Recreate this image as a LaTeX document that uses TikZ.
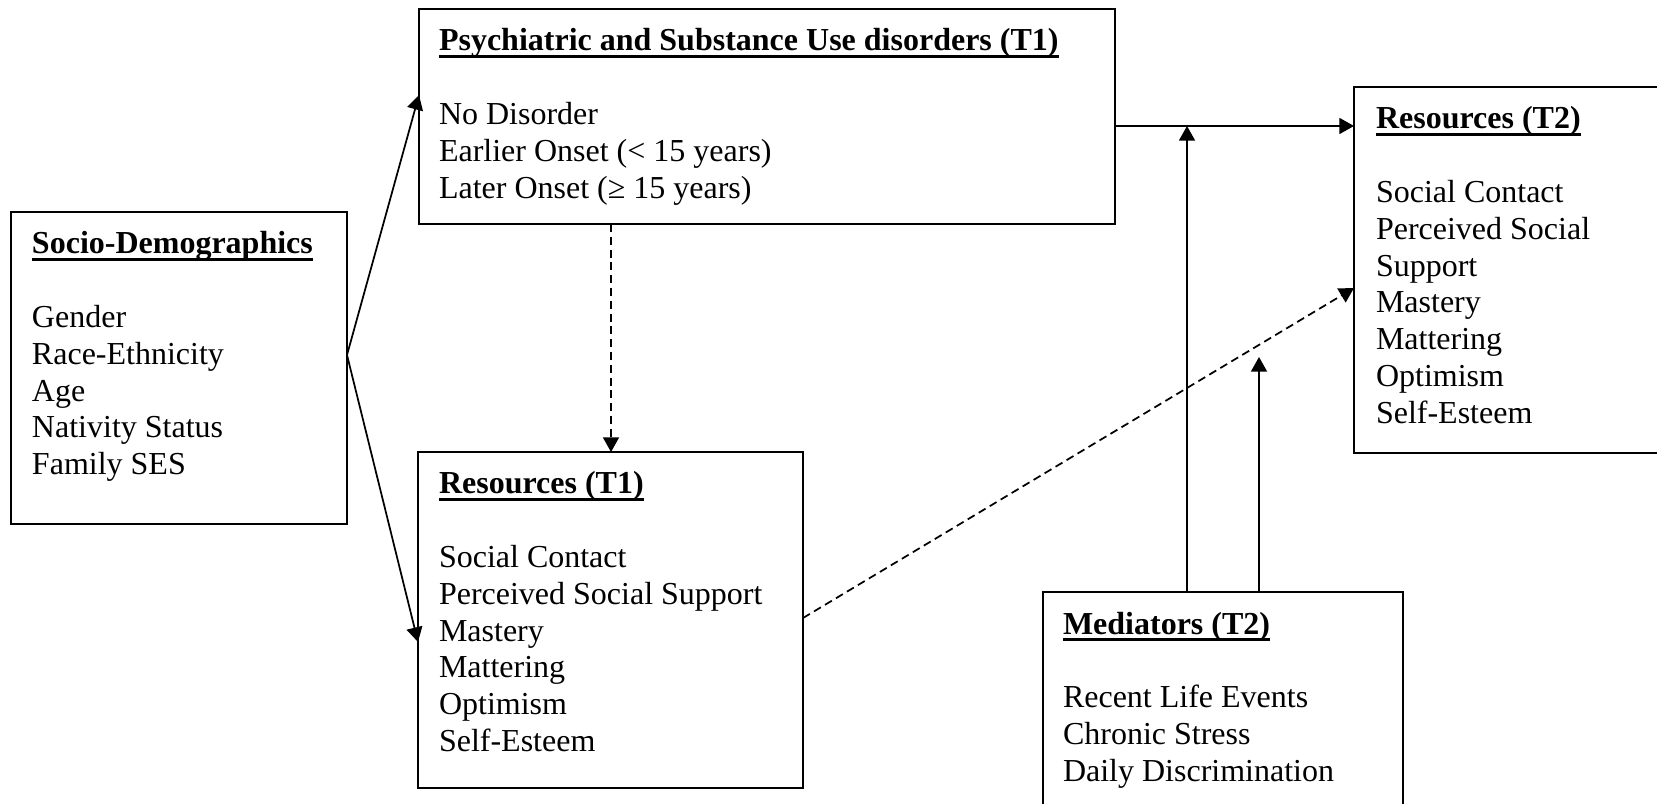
\documentclass[tikz,border=0pt]{standalone}
\usepackage{fontspec}
\setmainfont{Liberation Serif}
\usetikzlibrary{arrows.meta,calc}
\newcommand\ulbf[1]{\setbox0\hbox{\bfseries #1}\rlap{\rule[-2.6pt]{\wd0}{1pt}}\box0}
\begin{document}
\begin{tikzpicture}[x=0.375pt,y=-0.375pt,
  box/.style={draw,line width=0.8pt,inner sep=0pt,outer sep=0pt,anchor=north west},
  txt/.style={anchor=base west,inner sep=0pt,outer sep=0pt,font=\fontsize{12pt}{13.8pt}\selectfont},
  arr/.style={line width=0.65pt,-{Triangle[length=5.5pt,width=6pt]}},
  dsh/.style={arr,dash pattern=on 3pt off 1.8pt}]
\useasboundingbox (0,0) rectangle (1657,804);
\clip (0,0) rectangle (1657,804);
% boxes
\node[box,minimum width=126pt,minimum height=117pt] (socio) at (11,212) {};
\node[box,minimum width=261pt,minimum height=80.625pt] (psych) at (419,9) {};
\node[box,minimum width=144.375pt,minimum height=126pt] (t1) at (418,452) {};
\node[box,minimum width=129.75pt,minimum height=137.25pt] (t2) at (1354,87) {};
\node[box,minimum width=135pt,minimum height=93pt] (med) at (1043,592) {};
% texts
\node[txt] (sociotxt) at (32,254) {\begin{tabular}[t]{@{}l@{}}\ulbf{Socio-Demographics}\\ \\ Gender\\ Race-Ethnicity\\ Age\\ Nativity Status\\ Family SES\end{tabular}};
\node[txt] (psychtxt) at (439,51) {\begin{tabular}[t]{@{}l@{}}\ulbf{Psychiatric and Substance Use disorders (T1)}\\ \\ No Disorder\\ Earlier Onset (< 15 years)\\ Later Onset (≥ 15 years)\end{tabular}};
\node[txt] (t1txt) at (439,494) {\begin{tabular}[t]{@{}l@{}}\ulbf{Resources (T1)}\\ \\ Social Contact\\ Perceived Social Support\\ Mastery\\ Mattering\\ Optimism\\ Self-Esteem\end{tabular}};
\node[txt] (t2txt) at (1376,129) {\begin{tabular}[t]{@{}l@{}}\ulbf{Resources (T2)}\\ \\ Social Contact\\ Perceived Social\\ Support\\ Mastery\\ Mattering\\ Optimism\\ Self-Esteem\end{tabular}};
\node[txt] (medtxt) at (1063,634) {\begin{tabular}[t]{@{}l@{}}\ulbf{Mediators (T2)}\\ \\ Recent Life Events\\ Chronic Stress\\ Daily Discrimination\end{tabular}};
% connection points
\coordinate (s1) at ($(socio.north east)+(0,143)$);
\coordinate (p1) at ($(psych.north west)+(0,86)$);
\coordinate (r1) at ($(t1.north west)+(0,190)$);
\coordinate (d1) at ($(t1.north west)+(193,0)$);
\coordinate (h1) at ($(psych.north east)+(0,117)$);
\coordinate (m1) at ($(med.north west)+(144,0)$);
\coordinate (m2) at ($(med.north west)+(216,0)$);
\coordinate (m2end) at ($(m2)+(0,-235)$);
\coordinate (e1) at ($(t1.north east)+(0,166)$);
\coordinate (e2) at ($(t2.north west)+(0,201)$);
% connectors
\draw[arr] (s1) -- (p1);
\draw[arr] (s1) -- (r1);
\draw[dsh] (d1 |- psych.south) -- (d1);
\draw[arr] (h1) -- (h1 -| t2.west);
\draw[arr] (m1) -- (m1 |- h1);
\draw[arr] (m2) -- (m2end);
\draw[dsh] (e1) -- (e2);
\end{tikzpicture}
\end{document}
